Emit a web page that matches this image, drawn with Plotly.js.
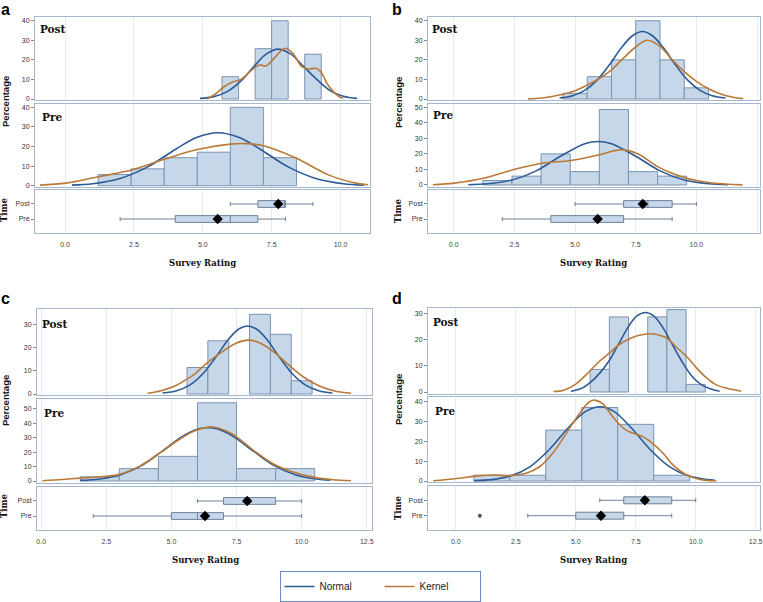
<!DOCTYPE html>
<html><head><meta charset="utf-8">
<script src="https://cdn.plot.ly/plotly-3.0.1.min.js"></script>
<style>html,body{margin:0;padding:0;background:#fff}#chart{width:763px;height:602px}</style>
</head><body><div id="chart"></div>
<script>
// ---------- DATA ----------
const seriesNames = ['Normal', 'Kernel'];
const boxLabels = ['Post', 'Pre'];
const boxPos = [2, 1];

// Panel a
const aPostEdges = [5.7, 6.3, 6.9, 7.5, 8.1, 8.7, 9.3];
const aPostPct = [11.4, 0, 25.7, 40.0, 0, 22.9];
const aPreEdges = [1.2, 2.4, 3.6, 4.8, 6.0, 7.2, 8.4];
const aPrePct = [5.7, 8.6, 14.3, 17.1, 40.0, 14.3];
const aPostNormX = [4.9, 5.4, 5.9, 6.4, 6.9, 7.3, 7.74, 8.2, 8.6, 9.1, 9.6, 10.1, 10.6];
const aPostNormY = [0.3, 1.2, 3.9, 9.4, 17.3, 22.9, 25.5, 22.9, 17.5, 10.5, 4.5, 1.4, 0.3];
const aPostKernX = [5.15, 5.45, 5.75, 6.1, 6.35, 6.6, 6.85, 7.07, 7.3, 7.54, 7.79, 8.0, 8.27, 8.6, 8.85, 9.1, 9.28, 9.55, 9.95, 10.1];
const aPostKernY = [0, 2.5, 6, 8.8, 9.7, 12.5, 15.7, 17.4, 16.9, 20, 24, 25.9, 23.3, 16.5, 15.3, 15.7, 14, 7, 1.2, 0.5];
const aPreNormX = [0.25, 1.0, 2.0, 3.0, 4.0, 4.8, 5.54, 6.3, 7.1, 8.1, 9.1, 10.1, 10.85];
const aPreNormY = [0.3, 1.0, 3.7, 9.6, 18.5, 24.7, 27, 24.7, 18.5, 9.6, 3.7, 1.0, 0.3];
const aPreKernX = [-0.91, 0.04, 1.21, 2.42, 3.6, 4.8, 6.0, 6.56, 7.2, 8.4, 9.58, 10.6, 11.0];
const aPreKernY = [0.3, 1.3, 4.6, 8, 13.5, 18.5, 21.2, 21.5, 20.4, 14, 5.4, 1.2, 0.5];
const aBoxLow = [6, 2], aBoxQ1 = [7, 4], aBoxMed = [8, 6], aBoxQ3 = [8, 7], aBoxHigh = [9, 8];
const aBoxMean = [7.74, 5.54];

// Panel b
const bPostEdges = [4.5, 5.5, 6.5, 7.5, 8.5, 9.5, 10.5];
const bPostPct = [2.9, 11.4, 20.0, 40.0, 20.0, 5.7];
const bPreEdges = [1.2, 2.4, 3.6, 4.8, 6.0, 7.2, 8.4, 9.6];
const bPrePct = [2.9, 5.7, 20.0, 8.6, 48.6, 8.6, 5.7];
const bPostNormX = [4.36, 4.9, 5.4, 5.9, 6.4, 6.9, 7.35, 7.78, 8.2, 8.65, 9.15, 9.65, 10.15, 10.65, 11.2];
const bPostNormY = [0.5, 1.7, 4.4, 9.5, 17.2, 26, 32.2, 34.5, 32.2, 26, 17.2, 9.5, 4.4, 1.7, 0.5];
const bPostKernX = [3.06, 3.8, 4.5, 5.0, 5.49, 6.0, 6.49, 7.0, 7.51, 7.97, 8.49, 9.0, 9.5, 10.0, 10.5, 11.0, 11.5, 11.93];
const bPostKernY = [0, 0.8, 2.4, 4.2, 7.1, 10.5, 14.8, 21, 26.7, 30, 27, 20, 14, 9, 5.2, 2.5, 0.9, 0.2];
const bPreNormX = [0.6, 1.4, 2.4, 3.4, 4.4, 5.4, 5.95, 6.5, 7.5, 8.5, 9.5, 10.5, 11.3];
const bPreNormY = [0.2, 0.8, 3.2, 9.1, 18.5, 26.6, 28, 26.6, 18.5, 9.1, 3.2, 0.8, 0.2];
const bPreKernX = [-0.86, 0.03, 1.23, 2.42, 3.64, 4.83, 6.01, 6.6, 7.0, 7.6, 8.4, 9.0, 9.59, 10.5, 11.2, 11.9];
const bPreKernY = [0.2, 1.2, 4.3, 9.7, 14, 15.8, 19.5, 22, 22.6, 20, 11.8, 7.5, 4.3, 1.6, 0.6, 0.1];
const bBoxLow = [5, 2], bBoxQ1 = [7, 4], bBoxMed = [8, 6], bBoxQ3 = [9, 7], bBoxHigh = [10, 9];
const bBoxMean = [7.79, 5.93];

// Panel c
const cPostEdges = [5.6, 6.4, 7.2, 8.0, 8.8, 9.6, 10.4];
const cPostPct = [11.4, 22.9, 0, 34.3, 25.7, 5.7];
const cPreEdges = [1.5, 3.0, 4.5, 6.0, 7.5, 9.0, 10.5];
const cPrePct = [2.9, 8.6, 17.1, 54.3, 8.6, 8.6];
const cPostNormX = [4.66, 5.2, 5.7, 6.2, 6.7, 7.2, 7.6, 7.92, 8.25, 8.65, 9.15, 9.65, 10.15, 10.65, 11.18];
const cPostNormY = [0.4, 1.4, 3.8, 8.6, 15.8, 23.7, 28.1, 29.3, 28.1, 23.7, 15.8, 8.6, 3.8, 1.4, 0.4];
const cPostKernX = [4.08, 4.6, 5.2, 5.56, 5.8, 6.38, 7.0, 7.5, 7.96, 8.4, 8.9, 9.5, 10.1, 10.7, 11.3, 11.9];
const cPostKernY = [0.3, 1.4, 3.8, 6.2, 7.8, 13.5, 18.6, 22, 23.2, 22, 18.4, 12.5, 7.1, 3.3, 1.2, 0.3];
const cPreNormX = [1.5, 2.25, 3.05, 3.85, 4.65, 5.45, 6.05, 6.4, 6.75, 7.35, 8.15, 8.95, 9.75, 10.55, 11.1];
const cPreNormY = [0.4, 1.4, 4.4, 10.7, 20.7, 31.2, 36.2, 37, 36.2, 31.2, 20.7, 10.7, 4.4, 1.4, 0.5];
const cPreKernX = [0.05, 0.8, 1.5, 2.2, 3.0, 3.8, 4.6, 5.4, 6.0, 6.6, 7.3, 8.1, 8.9, 9.7, 10.5, 11.2, 11.9];
const cPreKernY = [0.2, 1.0, 2.0, 2.8, 4.6, 10.5, 20, 30, 35.5, 37.5, 33, 22, 12, 6, 2.5, 0.9, 0.2];
const cBoxLow = [6, 2], cBoxQ1 = [7, 5], cBoxMed = [8, 6], cBoxQ3 = [9, 7], cBoxHigh = [10, 10];
const cBoxMean = [7.91, 6.29];

// Panel d
const dPostEdges = [5.6, 6.4, 7.2, 8.0, 8.8, 9.6, 10.4];
const dPostPct = [8.6, 28.6, 0, 28.6, 31.4, 2.9];
const dPreEdges = [0.75, 2.25, 3.75, 5.25, 6.75, 8.25, 9.75];
const dPrePct = [2.9, 2.9, 25.7, 37.1, 28.6, 2.9];
const dPostNormX = [4.8, 5.2, 5.6, 6.0, 6.4, 6.8, 7.2, 7.55, 7.9, 8.25, 8.6, 9.0, 9.4, 9.8, 10.2, 10.6, 11.0];
const dPostNormY = [0.3, 1.2, 3.6, 7.2, 12, 18.5, 25, 29, 30.3, 29, 25, 18.5, 12, 6.5, 3, 1.2, 0.3];
const dPostKernX = [4.07, 4.5, 5.0, 5.6, 6.0, 6.4, 6.8, 7.2, 7.6, 8.15, 8.8, 9.2, 9.6, 10.0, 10.4, 10.8, 11.3, 11.9];
const dPostKernY = [0.2, 0.7, 3.0, 8.1, 11.8, 14.8, 18, 20.1, 21.5, 22.2, 20.5, 17, 13.7, 9.5, 5.8, 3, 1.4, 0.3];
const dPreNormX = [0.76, 1.5, 2.3, 3.1, 3.9, 4.7, 5.4, 6.0, 6.6, 7.3, 8.1, 8.9, 9.7, 10.5, 10.8];
const dPreNormY = [0.2, 0.7, 2.6, 7.3, 15.9, 27, 35, 37.5, 35, 27, 15.9, 7.3, 2.6, 0.7, 0.4];
const dPreKernX = [-0.94, 0.04, 1.0, 1.54, 2.24, 2.93, 3.49, 4.04, 4.6, 5.15, 5.57, 5.78, 6.12, 6.54, 7.1, 7.8, 8.2, 8.64, 9.06, 9.62, 10.17, 10.86];
const dPreKernY = [0.1, 1.3, 2.7, 3.0, 2.7, 3.9, 7.2, 14, 24, 34, 40, 40.8, 39, 32.4, 25.7, 22.4, 19, 14, 8, 3, 0.8, 0.1];
const dBoxLow = [6, 3], dBoxQ1 = [7, 5], dBoxMed = [8, 6], dBoxQ3 = [9, 7], dBoxHigh = [10, 9];
const dBoxMean = [7.88, 6.05];
const dOutlierX = [1];
const dOutlierPos = [1];

// ---------- LAYOUT / STYLE ----------
const W = 763, H = 602;
const px = x => x / W, py = y => 1 - y / H;
const C_BAR = '#c7d7ea', C_BAR_LINE = '#7b93b1', C_NORM = '#2c5b95', C_KERN = '#b97a38';
const C_FRAME = '#a5b8ce', C_GRID = '#e6ebf1';
const SERIF = 'DejaVu Serif, Liberation Serif, serif';
const SANS = 'Liberation Sans, Arial, sans-serif';

const panels = [
  { key: 'a', hist: [[aPostEdges, aPostPct], [aPreEdges, aPrePct]],
    norm: [[aPostNormX, aPostNormY], [aPreNormX, aPreNormY]],
    kern: [[aPostKernX, aPostKernY], [aPreKernX, aPreKernY]],
    box: [aBoxLow, aBoxQ1, aBoxMed, aBoxQ3, aBoxHigh], mean: aBoxMean,
    g: { x: [35, 370], rows: [[17, 100], [104, 187], [190, 233]], xr: [-1.09, 11.07], yr: [[-0.51, 41.9], [-0.66, 41.7]],
         letter: [0, 9.5], lab: [[38, 29], [40, 117]], pct: [5, 102], time: [4, 210], sr: [202, 263] } },
  { key: 'b', hist: [[bPostEdges, bPostPct], [bPreEdges, bPrePct]],
    norm: [[bPostNormX, bPostNormY], [bPreNormX, bPreNormY]],
    kern: [[bPostKernX, bPostKernY], [bPreKernX, bPreKernY]],
    box: [bBoxLow, bBoxQ1, bBoxMed, bBoxQ3, bBoxHigh], mean: bBoxMean,
    g: { x: [428, 760], rows: [[17, 100], [104, 187], [190, 233]], xr: [-1.06, 12.62], yr: [[-0.51, 41.9], [-1.29, 52.1]],
         letter: [391, 9.5], lab: [[430, 29], [431, 115]], pct: [398, 102], time: [398, 210], sr: [593, 263] } },
  { key: 'c', hist: [[cPostEdges, cPostPct], [cPreEdges, cPrePct]],
    norm: [[cPostNormX, cPostNormY], [cPreNormX, cPreNormY]],
    kern: [[cPostKernX, cPostKernY], [cPreKernX, cPreKernY]],
    box: [cBoxLow, cBoxQ1, cBoxMed, cBoxQ3, cBoxHigh], mean: cBoxMean,
    g: { x: [37, 372], rows: [[309, 395], [399, 483], [487, 530]], xr: [-0.16, 12.7], yr: [[-0.43, 36.6], [-1.39, 56.9]],
         letter: [0, 298], lab: [[40, 324], [42, 413]], pct: [5, 401], time: [4, 506], sr: [206, 560] } },
  { key: 'd', hist: [[dPostEdges, dPostPct], [dPreEdges, dPrePct]],
    norm: [[dPostNormX, dPostNormY], [dPreNormX, dPreNormY]],
    kern: [[dPostKernX, dPostKernY], [dPreKernX, dPreKernY]],
    box: [dBoxLow, dBoxQ1, dBoxMed, dBoxQ3, dBoxHigh], mean: dBoxMean,
    g: { x: [428, 760], rows: [[308, 394], [397, 482], [486, 530]], xr: [-1.16, 12.68], yr: [[-0.76, 32.0], [-0.5, 42.4]],
         letter: [391, 298], lab: [[431, 322], [433, 411]], pct: [398, 399], time: [398, 507], sr: [593, 560] } }
];

const traces = [];
const layout = {
  width: W, height: H, margin: { l: 0, r: 0, t: 0, b: 0 },
  paper_bgcolor: '#fff', plot_bgcolor: '#fff', barmode: 'overlay',
  font: { family: SANS, color: '#222' },
  showlegend: true,
  legend: { orientation: 'h', x: px(380), xanchor: 'center', y: 0, yanchor: 'bottom',
            bordercolor: '#6d8fbf', borderwidth: 1, font: { family: SANS, size: 10, color: '#222' },
            entrywidth: 55, entrywidthmode: 'pixels', tracegroupgap: 0 },
  annotations: []
};

const ax = n => (n === 1 ? '' : String(n));

panels.forEach((p, pi) => {
  const g = p.g;
  for (let r = 0; r < 3; r++) {
    const n = pi * 3 + r + 1;
    const rows = g.rows[r];
    layout['xaxis' + ax(n)] = {
      domain: [px(g.x[0]), px(g.x[1])], range: g.xr, anchor: 'y' + ax(n),
      showgrid: true, gridcolor: C_GRID, gridwidth: 1, zeroline: false,
      showline: true, mirror: true, linecolor: C_FRAME, linewidth: 1,
      tick0: 0, dtick: 2.5, tickformat: '.1f', showticklabels: r === 2,
      ticks: r === 2 ? 'outside' : '', ticklen: 5, tickcolor: 'rgba(0,0,0,0)',
      tickfont: { family: SANS, size: 7, color: '#444' }, fixedrange: true
    };
    const yax = {
      domain: [py(rows[1]), py(rows[0])], anchor: 'x' + ax(n),
      showgrid: false, zeroline: false, showline: true, mirror: true, linecolor: C_FRAME, linewidth: 1,
      ticks: 'outside', ticklen: 3, tickcolor: '#888', tickwidth: 1,
      tickfont: { family: SANS, size: 7, color: '#333' }, fixedrange: true
    };
    if (r < 2) {
      yax.range = g.yr[r]; yax.tick0 = 0; yax.dtick = 10;
    } else {
      yax.range = [0.07, 2.93]; yax.tickmode = 'array'; yax.tickvals = boxPos; yax.ticktext = boxLabels;
    }
    layout['yaxis' + ax(n)] = yax;

    const xa = 'x' + ax(n), ya = 'y' + ax(n);
    if (r < 2) {
      const [edges, pct] = p.hist[r];
      const cx = [], cy = [], cw = [];
      for (let i = 0; i < pct.length; i++) {
        if (pct[i] > 0) { cx.push((edges[i] + edges[i + 1]) / 2); cy.push(pct[i]); cw.push(edges[i + 1] - edges[i]); }
      }
      traces.push({ type: 'bar', x: cx, y: cy, width: cw, xaxis: xa, yaxis: ya, showlegend: false, hoverinfo: 'skip',
        marker: { color: C_BAR, line: { color: C_BAR_LINE, width: 1 } } });
      traces.push({ type: 'scatter', mode: 'lines', x: p.norm[r][0], y: p.norm[r][1], xaxis: xa, yaxis: ya,
        name: seriesNames[0], showlegend: n === 1, legendgroup: 'n', hoverinfo: 'skip',
        line: { color: C_NORM, width: 1.6, shape: 'spline', smoothing: 1 } });
      traces.push({ type: 'scatter', mode: 'lines', x: p.kern[r][0], y: p.kern[r][1], xaxis: xa, yaxis: ya,
        name: seriesNames[1], showlegend: n === 1, legendgroup: 'k', hoverinfo: 'skip',
        line: { color: C_KERN, width: 1.6, shape: 'spline', smoothing: 1 } });
      layout.annotations.push({ xref: 'paper', yref: 'paper', x: px(g.lab[r][0]), y: py(g.lab[r][1]),
        xanchor: 'left', yanchor: 'middle', showarrow: false, text: '<b>' + boxLabels[r] + '</b>',
        font: { family: SERIF, size: 10.5, color: '#111' } });
    } else {
      const [lo, q1, md, q3, hi] = p.box;
      for (let k = 0; k < 2; k++) {
        traces.push({ type: 'box', orientation: 'h', y: [boxPos[k]], q1: [q1[k]], median: [md[k]], q3: [q3[k]],
          lowerfence: [lo[k]], upperfence: [hi[k]], xaxis: xa, yaxis: ya, showlegend: false, hoverinfo: 'skip',
          width: 0.45, whiskerwidth: 0.6, boxpoints: false,
          fillcolor: C_BAR, line: { color: '#6f8099', width: 1 } });
      }
      traces.push({ type: 'scatter', mode: 'markers', x: p.mean, y: boxPos, xaxis: xa, yaxis: ya,
        showlegend: false, hoverinfo: 'skip', marker: { symbol: 'diamond', size: 8, color: '#000' } });
      if (p.key === 'd') {
        traces.push({ type: 'scatter', mode: 'markers', x: dOutlierX, y: dOutlierPos, xaxis: xa, yaxis: ya,
          showlegend: false, hoverinfo: 'skip', marker: { symbol: 'circle', size: 4, color: '#555' } });
      }
    }
  }
  layout.annotations.push({ xref: 'paper', yref: 'paper', x: px(g.letter[0]), y: py(g.letter[1]), xanchor: 'left', yanchor: 'middle',
    showarrow: false, borderpad: 0, text: '<b>' + p.key + '</b>', font: { family: SANS, size: 16, color: '#000' } });
  layout.annotations.push({ xref: 'paper', yref: 'paper', x: px(g.pct[0]), y: py(g.pct[1]), xanchor: 'center', yanchor: 'middle',
    showarrow: false, textangle: -90, text: '<b>Percentage</b>', font: { family: SANS, size: 9.5, color: '#111' } });
  layout.annotations.push({ xref: 'paper', yref: 'paper', x: px(g.time[0]), y: py(g.time[1]), xanchor: 'center', yanchor: 'middle',
    showarrow: false, textangle: -90, text: '<b>Time</b>', font: { family: SERIF, size: 8.5, color: '#111' } });
  layout.annotations.push({ xref: 'paper', yref: 'paper', x: px(g.sr[0]), y: py(g.sr[1]), xanchor: 'center', yanchor: 'middle',
    showarrow: false, text: '<b>Survey Rating</b>', font: { family: SERIF, size: 8.5, color: '#111' } });
});

Plotly.newPlot('chart', traces, layout, { staticPlot: true, displayModeBar: false });
</script>
</body></html>
